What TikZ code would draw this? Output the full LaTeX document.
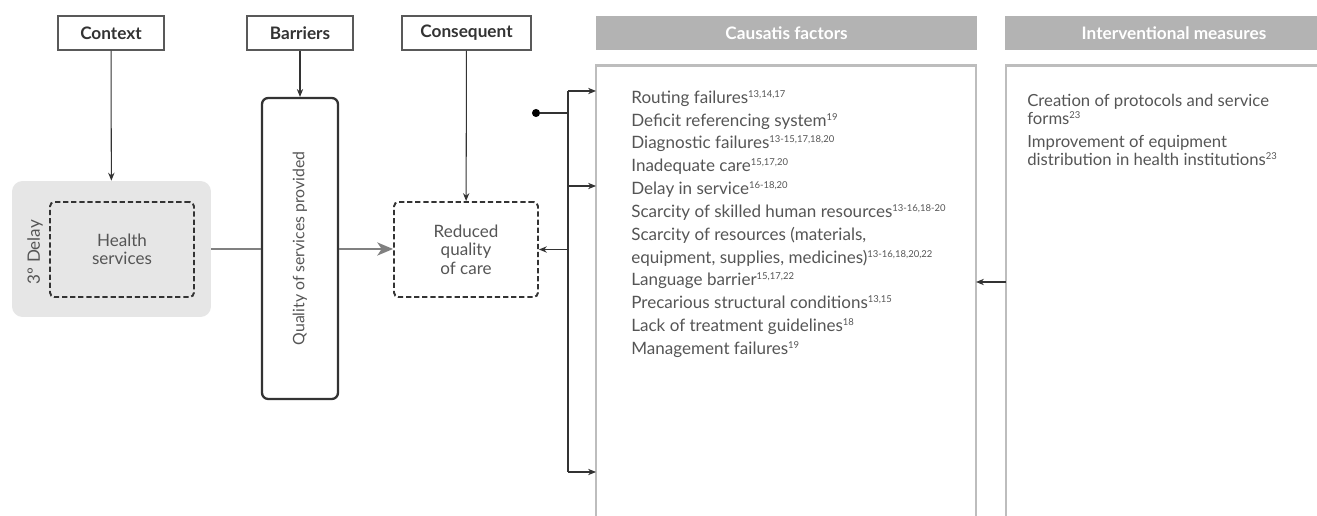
\documentclass[tikz,border=0pt]{standalone}
\usepackage{fontspec}
\setmainfont{Lato}
\usetikzlibrary{arrows.meta}
\definecolor{txtgray}{HTML}{555555}
\definecolor{linegray}{HTML}{333333}
\definecolor{colgray}{HTML}{BDBDBD}
\definecolor{headgray}{HTML}{B3B3B3}
\definecolor{shadegray}{HTML}{E6E6E6}
\newcommand{\rf}[1]{\raisebox{3.4pt}{\fontsize{5.4}{6}\selectfont #1}}

\begin{document}
\begin{tikzpicture}[x=0.02cm, y=-0.02cm,
    font=\fontsize{9.7}{10.5}\selectfont, text=txtgray,
    topbox/.style={draw=black!65, line width=0.6pt, minimum width=#1, minimum height=0.68cm,
        inner sep=0pt, font=\fontsize{9.8}{10.5}\selectfont\bfseries, text=black!80},
    headbar/.style={fill=headgray, minimum width=#1, minimum height=0.68cm, inner sep=0pt,
        text=white, font=\fontsize{9.8}{10.5}\selectfont\bfseries},
    dashbox/.style={draw=linegray, line width=1.1pt, dash pattern=on 3pt off 1.6pt,
        rounded corners=2.5pt, minimum width=2.88cm, minimum height=1.9cm, align=center},
    conn/.style={draw=linegray, line width=0.6pt},
    arr/.style={-{Stealth[length=4.5pt, width=3.6pt]}},
    colline/.style={draw=colgray, line width=1.2pt}]

    \useasboundingbox (0,0) rectangle (1317,516);

    % titulos de cima
    \node[topbox=2.12cm] (context) at (111,33) {Context};
    \node[topbox=2.12cm] (barriers) at (300,33) {Barriers};
    \node[topbox=2.58cm] (consequent) at (466.5,33) {Consequent};
    \node[headbar=7.62cm] (hcaus) at (786.5,33) {Causatis factors};
    \node[headbar=6.76cm] (hint) at (1174,33) {Interventional measures};

    % atraso e servicos de saude
    \node[fill=shadegray, rounded corners=6pt, minimum width=3.98cm, minimum height=2.72cm] (delay) at (111.5,249) {};
    \node[rotate=90] (delaylbl) at (35,252) {3º Delay};
    \node[dashbox] (health) at (122,249.5) {Health\\services};

    % qualidade dos servicos
    \node[draw=linegray, line width=1.3pt, rounded corners=3.5pt, minimum width=1.52cm,
        minimum height=6.02cm, inner sep=0pt, font=\fontsize{9}{10}\selectfont] (quality) at (300,248.5)
        {\raisebox{0pt}{\rotatebox{90}{Quality of services provided}}};

    % consequencia
    \node[dashbox] (reduced) at (466,249.5) {Reduced\\quality\\of care};

    % setas de cima
    \draw[conn, arr] (context) -- (delay);
    \draw[conn, arr] (barriers) -- (quality);
    \draw[conn, arr] (consequent) -- (reduced);

    % ligacoes do meio
    \draw[draw=gray, line width=0.9pt] (delay.east) -- (quality.west |- delay.east);
    \draw[draw=gray, line width=0.9pt, -{Stealth[length=9pt, width=7.5pt, inset=2.5pt]}]
        (quality.east |- delay.east) -- (reduced.west |- delay.east);

    % colunas
    \draw[colline] (596,520) |- (976,65.5) -- (976,520);
    \draw[colline] (1006,520) |- (1330,65.5);

    % fatores causais
    \node[anchor=north west, inner sep=0pt, align=left, font=\fontsize{9.7}{13}\selectfont] (causlist) at (631,90) {%
        Routing failures\rf{13,14,17}\\
        Deficit referencing system\rf{19}\\
        Diagnostic failures\rf{13-15,17,18,20}\\
        Inadequate care\rf{15,17,20}\\
        Delay in service\rf{16-18,20}\\
        Scarcity of skilled human resources\rf{13-16,18-20}\\
        Scarcity of resources (materials,\\
        equipment, supplies, medicines)\rf{13-16,18,20,22}\\
        Language barrier\rf{15,17,22}\\
        Precarious structural conditions\rf{13,15}\\
        Lack of treatment guidelines\rf{18}\\
        Management failures\rf{19}};

    % medidas de intervencao
    \node[anchor=north west, inner sep=0pt, align=left, font=\fontsize{9.5}{10.4}\selectfont] (intlist) at (1027,93.5) {%
        Creation of protocols and service\\
        forms\rf{23}\\[2.8pt]
        Improvement of equipment\\
        distribution in health institutions\rf{23}};

    % ramificacao
    \node[circle, fill=black, inner sep=0pt, minimum size=4.6pt] (src) at (536,113) {};
    \coordinate (fork) at (568,113);
    \coordinate (forkTop) at (568,91);
    \coordinate (forkBot) at (568,472);
    \coordinate (in1) at (596,91);
    \coordinate (in2) at (596,186);
    \coordinate (in3) at (596,472);
    \draw[conn] (src) -- (fork);
    \draw[conn] (forkTop) -- (forkBot);
    \draw[conn, arr] (forkTop) -- (in1);
    \draw[conn, arr] (forkTop |- in2) -- (in2);
    \draw[conn, arr] (forkBot) -- (in3);
    \draw[conn, arr] (forkTop |- reduced.east) -- (reduced.east);

    % seta das medidas
    \coordinate (intOut) at (1006,282);
    \coordinate (causIn) at (976,282);
    \draw[conn, arr] (intOut) -- (causIn);
\end{tikzpicture}
\end{document}
